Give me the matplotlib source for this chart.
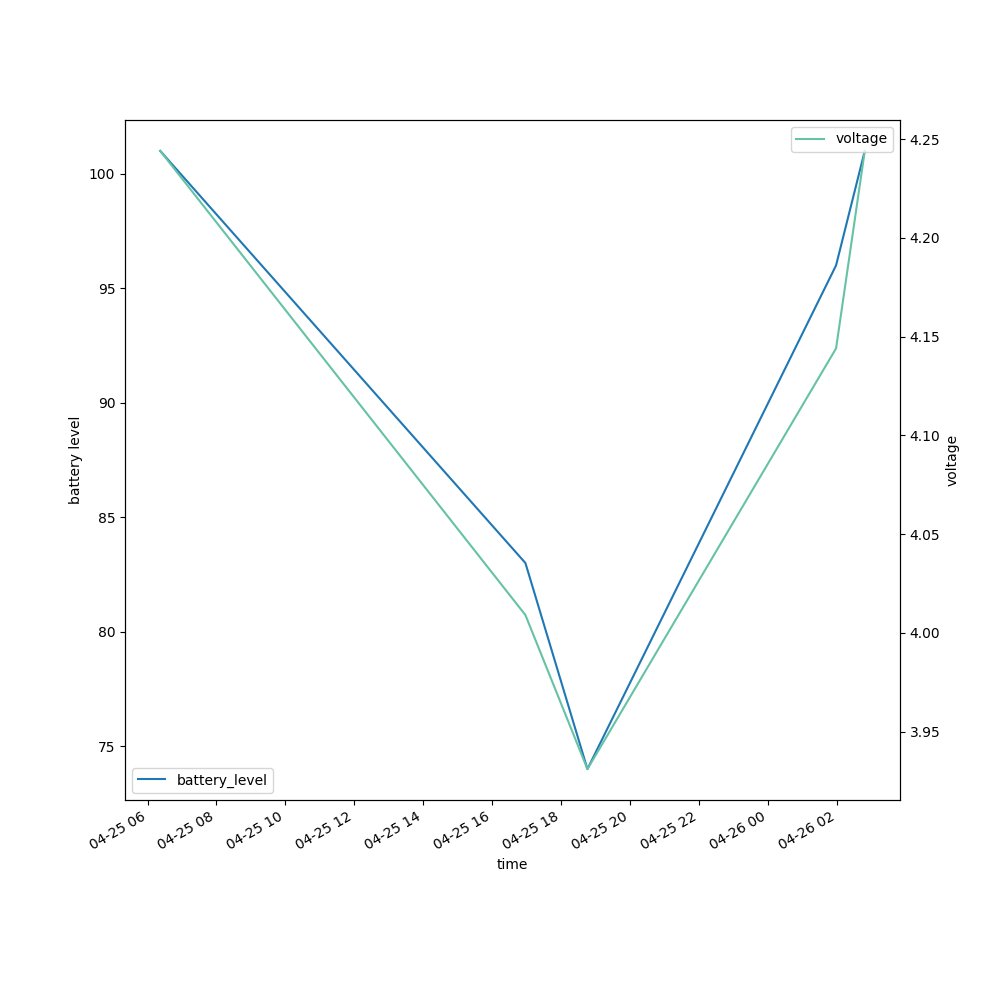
import matplotlib
matplotlib.use("Agg")
import matplotlib.pyplot as plt
import pandas as pd

# readings
times = ["2023-04-25 06:22", "2023-04-25 16:58", "2023-04-25 18:46",
         "2023-04-26 01:59", "2023-04-26 02:49"]
battery_level = [101, 83, 74, 96, 101]
voltage = [4.244, 4.009, 3.931, 4.144, 4.244]

df = pd.DataFrame({"time": pd.to_datetime(times),
                   "battery_level": battery_level,
                   "voltage": voltage})

fig, ax = plt.subplots(figsize=(10, 10), dpi=100)
ax.plot(df["time"], df["battery_level"], color="#1f77b4", label="battery_level")
ax.set_xlabel("time")
ax.set_ylabel("battery level")
ax.legend(loc="lower left")

ax2 = ax.twinx()
ax2.plot(df["time"], df["voltage"], color="#66c2a5", label="voltage")
ax2.set_ylabel("voltage")
ax2.legend(loc="upper right")

fig.autofmt_xdate()
fig.savefig("out.png")
